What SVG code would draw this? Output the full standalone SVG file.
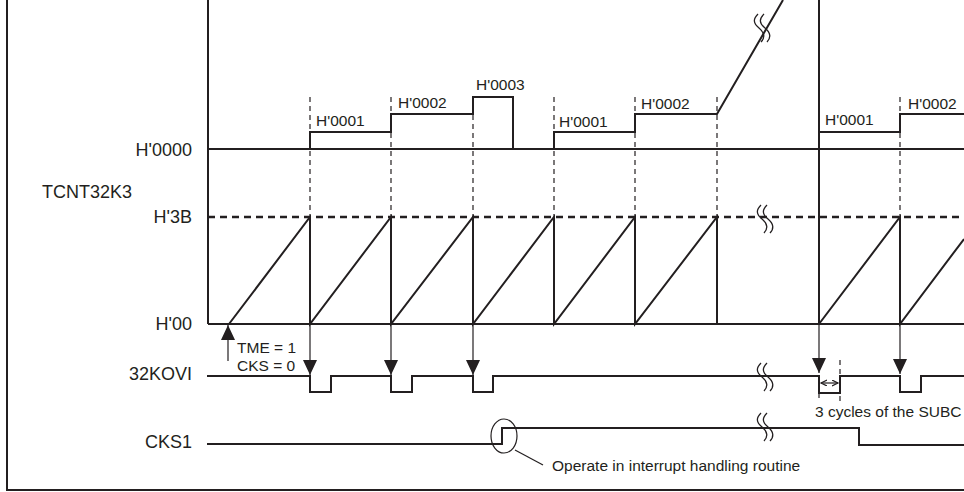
<svg xmlns="http://www.w3.org/2000/svg" width="964" height="492" viewBox="0 0 964 492">
<style>
.ln{stroke:#231f20;stroke-width:2;fill:none}
.th{stroke:#231f20;stroke-width:1.2;fill:none}
.dv{stroke:#231f20;stroke-width:1.2;stroke-dasharray:5 4;fill:none}
.dh{stroke:#231f20;stroke-width:2.6;stroke-dasharray:7 5;fill:none}
.brk{stroke:#231f20;stroke-width:1.3;fill:none}
text{font-family:"Liberation Sans",Arial,sans-serif;fill:#231f20}
.big{font-size:18px}
.sm{font-size:15.5px}
</style>
<defs>
<marker id="ah" markerUnits="userSpaceOnUse" markerWidth="16" markerHeight="16" refX="15" refY="7" orient="auto"><path d="M0 0 L15 7 L0 14 z" fill="#231f20"/></marker>
<marker id="as" markerUnits="userSpaceOnUse" markerWidth="8" markerHeight="8" refX="6" refY="3" orient="auto"><path d="M0 0 L6 3 L0 6" fill="none" stroke="#231f20" stroke-width="1.2"/></marker>
<g id="brk"><path class="brk" d="M0 0 C-5 5 -5 9 1 14 C7 19 7 24 3 28"/><path class="brk" d="M6 0 C1 5 1 9 7 14 C13 19 13 24 9 28"/></g>
</defs>
<g id="frame"><path class="ln" d="M7 0 V490 H964"/></g>
<g id="axes">
<path class="ln" d="M208 0 V324"/>
<path class="ln" d="M208 149 H964"/>
<path class="ln" d="M208 324 H964"/>
<path class="dh" d="M208 217 H964"/>
<text class="big" x="192" y="156" text-anchor="end">H'0000</text>
<text class="big" x="42" y="198">TCNT32K3</text>
<text class="big" x="192" y="223" text-anchor="end">H'3B</text>
<text class="big" x="192" y="330" text-anchor="end">H'00</text>
<text class="big" x="192" y="380" text-anchor="end">32KOVI</text>
<text class="big" x="192" y="448" text-anchor="end">CKS1</text>
</g>
<g id="upper-counter">
<path class="dv" d="M310 97 V217 M391 97 V217 M473 97 V217 M554 97 V217 M635 97 V217 M717 97 V217 M900 97 V217"/>
<path class="ln" d="M310 149 V132 H391 V114 H473 V97 H513 V149 H554 V132 H635 V114 H717 L783 0"/>
<path class="ln" d="M819 132 H900 V114 H964"/>
<text class="sm" x="316" y="126">H'0001</text>
<text class="sm" x="398" y="108">H'0002</text>
<text class="sm" x="476" y="90">H'0003</text>
<text class="sm" x="559" y="127">H'0001</text>
<text class="sm" x="641" y="109">H'0002</text>
<text class="sm" x="825" y="125">H'0001</text>
<text class="sm" x="908" y="109">H'0002</text>
<use href="#brk" x="758" y="14"/>
</g>
<g id="tcnt32k3">
<path class="ln" d="M229 324 L310 217 V324 L391 217 V324 L473 217 V324 L554 217 V324 L635 217 V324 L717 217 V324"/>
<path class="ln" d="M819 0 V324"/>
<path class="ln" d="M819 324 L900 217 V324 L964 239"/>
<use href="#brk" x="761" y="205"/>
</g>
<g id="kovi">
<path class="ln" d="M207 376 H310 V392 H331 V376 H391 V392 H412 V376 H473 V392 H493 V376 H819 V393 H840 V376 H900 V392 H921 V376 H964"/>
<use href="#brk" x="761" y="363"/>
</g>
<g id="cks1">
<path class="ln" d="M207 444 H502 V428 H859 V445 H964"/>
<use href="#brk" x="761" y="413"/>
</g>
<g id="connectors">
<line class="th" x1="310" y1="324" x2="310" y2="375" marker-end="url(#ah)"/>
<line class="th" x1="391" y1="324" x2="391" y2="375" marker-end="url(#ah)"/>
<line class="th" x1="473" y1="324" x2="473" y2="375" marker-end="url(#ah)"/>
<line class="th" x1="819" y1="324" x2="819" y2="373" marker-end="url(#ah)"/>
<line class="th" x1="900" y1="324" x2="900" y2="374" marker-end="url(#ah)"/>
<line class="th" x1="228" y1="361" x2="228" y2="325" marker-end="url(#ah)"/>
<path class="dv" d="M840 360 V402 M819 393 V402"/>
<line class="th" x1="829" y1="383" x2="821" y2="383" marker-end="url(#as)"/>
<line class="th" x1="829" y1="383" x2="838" y2="383" marker-end="url(#as)"/>
<ellipse class="th" cx="504" cy="436" rx="13" ry="17"/>
<line class="th" x1="515" y1="450" x2="543" y2="465"/>
</g>
<g id="annotations">
<text class="sm" x="237" y="353">TME = 1</text>
<text class="sm" x="237" y="371">CKS = 0</text>
<text class="sm" x="815" y="417">3 cycles of the SUBC</text>
<text class="sm" x="552" y="471">Operate in interrupt handling routine</text>
</g>
</svg>
